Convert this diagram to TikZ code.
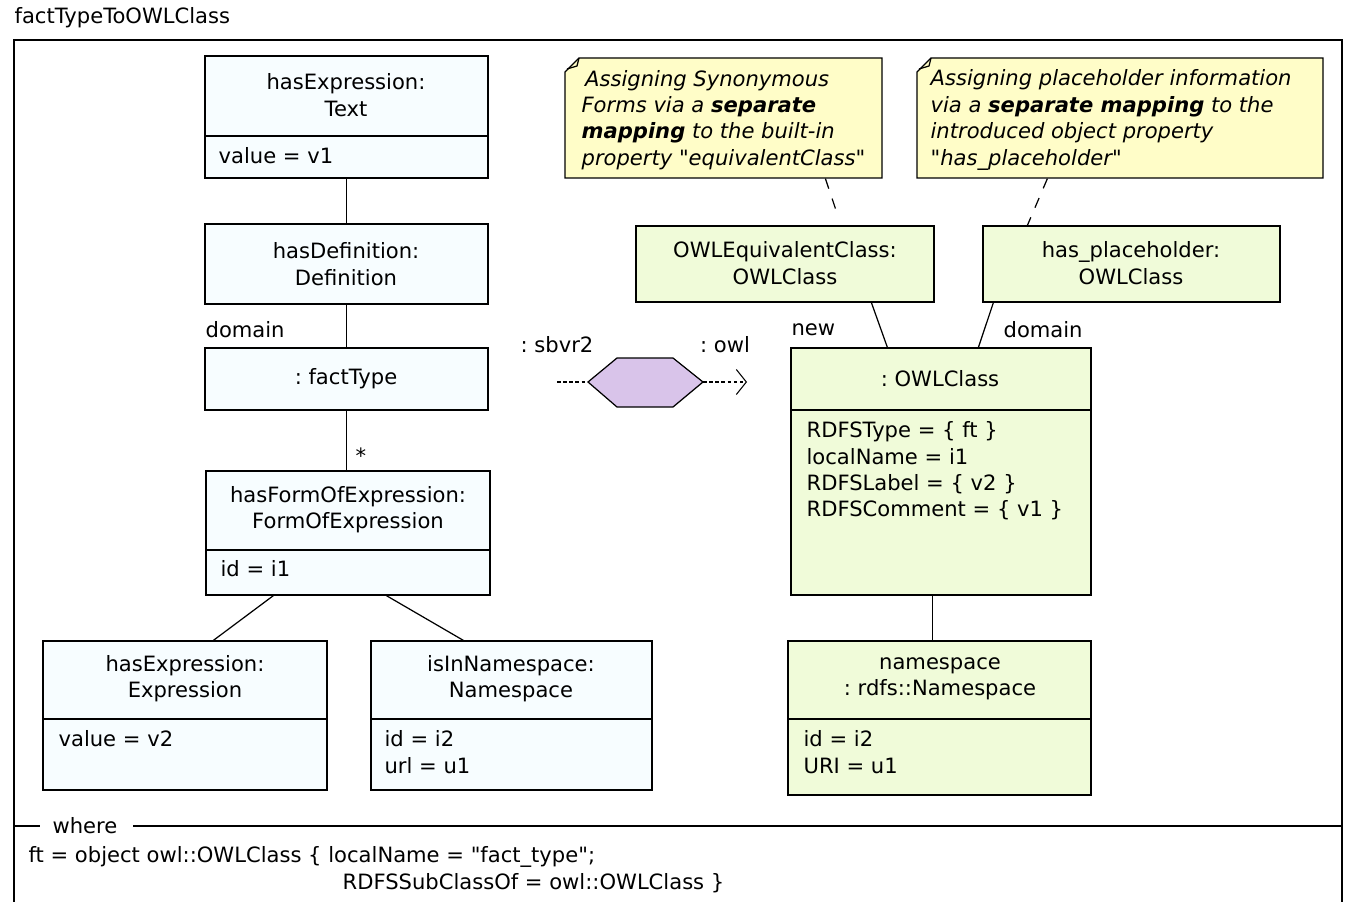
\documentclass[tikz,border=0pt]{standalone}
\usepackage{fontspec}
\setmainfont{DejaVu Sans}[Ligatures=TeXOff]
\usetikzlibrary{calc,fit,arrows.meta}
\frenchspacing

\definecolor{srcFill}{HTML}{F7FDFF}
\definecolor{tgtFill}{HTML}{F0FBD9}
\definecolor{noteFill}{HTML}{FFFDC8}
\definecolor{relFill}{HTML}{D9C4EA}

\tikzset{
  objbox/.style={draw, line width=0.7pt, inner sep=0pt},
  srcobj/.style={objbox, fill=srcFill},
  tgtobj/.style={objbox, fill=tgtFill},
  head/.style={align=center, inner sep=0pt},
  attr/.style={anchor=west, align=left, inner sep=0pt},
  role/.style={anchor=west, inner sep=0pt},
  notebox/.style={draw, line width=0.7pt, fill=noteFill},
  notetext/.style={anchor=west, align=left, inner sep=0pt, font=\fontsize{12}{15}\selectfont\itshape},
  noteline/.style={line width=0.7pt, dash pattern=on 6pt off 6pt},
  flowline/.style={line width=0.6pt, dash pattern=on 2pt off 1.5pt}
}

\begin{document}
\begin{tikzpicture}[x=0.02cm, y=-0.02cm, line width=0.7pt, font=\fontsize{12}{15}\selectfont]
    \useasboundingbox (0,0) rectangle (1346,902);

    % Frame of the mapping
    \node[anchor=west, inner sep=0pt] (title) at (14,18) {factTypeToOWLClass};
    \draw (14,902) |- (1342,40) -- (1342,902);

    % Source pattern (sbvr2)
    \node[srcobj, fit={(205,56) (488,178)}] (hasText) {};
    \draw (205,136) -- (488,136);
    \node[head] at (346,95) {hasExpression:\\Text};
    \node[attr] at (218,156) {value = v1};

    \node[srcobj, fit={(205,224) (488,304)}] (hasDef) {};
    \node[head] at (346,264) {hasDefinition:\\Definition};

    \node[srcobj, fit={(205,348) (488,410)}] (factType) {};
    \node[head] at (346,379) {: factType};

    \node[srcobj, fit={(206,471) (490,595)}] (hasForm) {};
    \draw (206,550) -- (490,550);
    \node[head] at (348,510) {hasFormOfExpression:\\FormOfExpression};
    \node[attr] at (220,569) {id = i1};

    \node[srcobj, fit={(43,641) (327,790)}] (hasExpr) {};
    \draw (43,719) -- (327,719);
    \node[head] at (185,679) {hasExpression:\\Expression};
    \node[attr] at (58,739) {value = v2};

    \node[srcobj, fit={(371,641) (652,790)}] (inNs) {};
    \draw (371,719) -- (652,719);
    \node[head] at (511,679) {isInNamespace:\\Namespace};
    \node[attr] at (384,752) {id = i2\\url = u1};

    % Source links
    \draw (hasText) -- (hasDef);
    \draw (hasDef) -- (factType);
    \draw (factType) -- (factType |- hasForm.north);
    \draw ($(hasForm.south west)+(68,0)$) -- ($(hasExpr.north west)+(171,0)$);
    \draw ($(hasForm.south west)+(181,0)$) -- ($(inNs.north west)+(93,0)$);
    \node[role] at (205,330) {domain};
    \node[inner sep=0pt] at (361,456) {*};

    % Relation
    \coordinate (srcEnd) at (557,382);
    \coordinate (relW) at (588,382);
    \coordinate (relE) at (703,382);
    \coordinate (tgtEnd) at (747,382);
    \draw[fill=relFill, line width=0.7pt] (relW) -- (617,358) -- (673,358) -- (relE)
        -- (673,407) -- (617,407) -- cycle;
    \draw[flowline] (srcEnd) -- (relW);
    \draw[flowline, -{Straight Barb[length=2mm, width=5mm, line width=0.6pt]}] (relE) -- (tgtEnd);
    \node[inner sep=0pt] at (557,345) {: sbvr2};
    \node[inner sep=0pt] at (725,345) {: owl};

    % Target pattern (owl)
    \node[tgtobj, fit={(636,226) (934,302)}] (eqClass) {};
    \node[head] at (785,263) {OWLEquivalentClass:\\OWLClass};

    \node[tgtobj, fit={(983,226) (1280,302)}] (placeholder) {};
    \node[head] at (1131,263) {has\_placeholder:\\OWLClass};

    \node[tgtobj, fit={(791,348) (1091,595)}] (owlClass) {};
    \draw (791,410) -- (1091,410);
    \node[head] at (940,379) {: OWLClass};
    \node[attr] at (806,471) {RDFSType = \{ ft \}\\localName = i1\\RDFSLabel = \{ v2 \}\\RDFSComment = \{ v1 \}};

    \node[tgtobj, fit={(788,641) (1091,795)}] (ns) {};
    \draw (788,719) -- (1091,719);
    \node[head] at (940,679) {namespace\\: rdfs::Namespace};
    \node[attr] at (803,752) {id = i2\\URI = u1};

    % Target links
    \draw ($(eqClass.south west)+(236,0)$) -- ($(owlClass.north west)+(97,0)$);
    \draw ($(placeholder.south west)+(11,0)$) -- ($(owlClass.north west)+(188,0)$);
    \draw ($(owlClass.south west)+(142,0)$) -- ($(ns.north west)+(145,0)$);
    \node[role] at (791,330) {new};
    \node[role] at (1003,330) {domain};

    % Notes
    \node[fit={(565,58) (882,178)}, inner sep=0pt] (noteSyn) {};
    \draw[notebox] (565,72) -- (579,58) -- (882,58) -- (882,178) -- (565,178) -- cycle;
    \draw (579,58) -- (577,66) -- (567,69);
    \node[notetext] at (581,120) {\,Assigning Synonymous\\Forms via a \textbf{separate}\\\textbf{mapping} to the built-in\\property "equivalentClass"};

    \node[fit={(917,58) (1323,178)}, inner sep=0pt] (notePh) {};
    \draw[notebox] (917,72) -- (931,58) -- (1323,58) -- (1323,178) -- (917,178) -- cycle;
    \draw (931,58) -- (929,66) -- (919,69);
    \node[notetext] at (930,120) {Assigning placeholder information\\via a \textbf{separate mapping} to the\\introduced object property\\"has\_placeholder"};

    \draw[noteline] ($(noteSyn.south west)+(261,0)$) -- ($(eqClass.north west)+(202,-11)$);
    \draw[noteline] ($(notePh.south west)+(131,0)$) -- ($(placeholder.north west)+(45,0)$);

    % Where clause
    \draw (14,826) -- (40,826);
    \node[role] (whereLbl) at (52,826) {where};
    \draw (133,826) -- (1342,826);
    \node[role] at (28,857) {ft = object owl::OWLClass \{ localName = "fact\_type";};
    \node[role] at (342,883) {RDFSSubClassOf = owl::OWLClass \}};
\end{tikzpicture}
\end{document}
